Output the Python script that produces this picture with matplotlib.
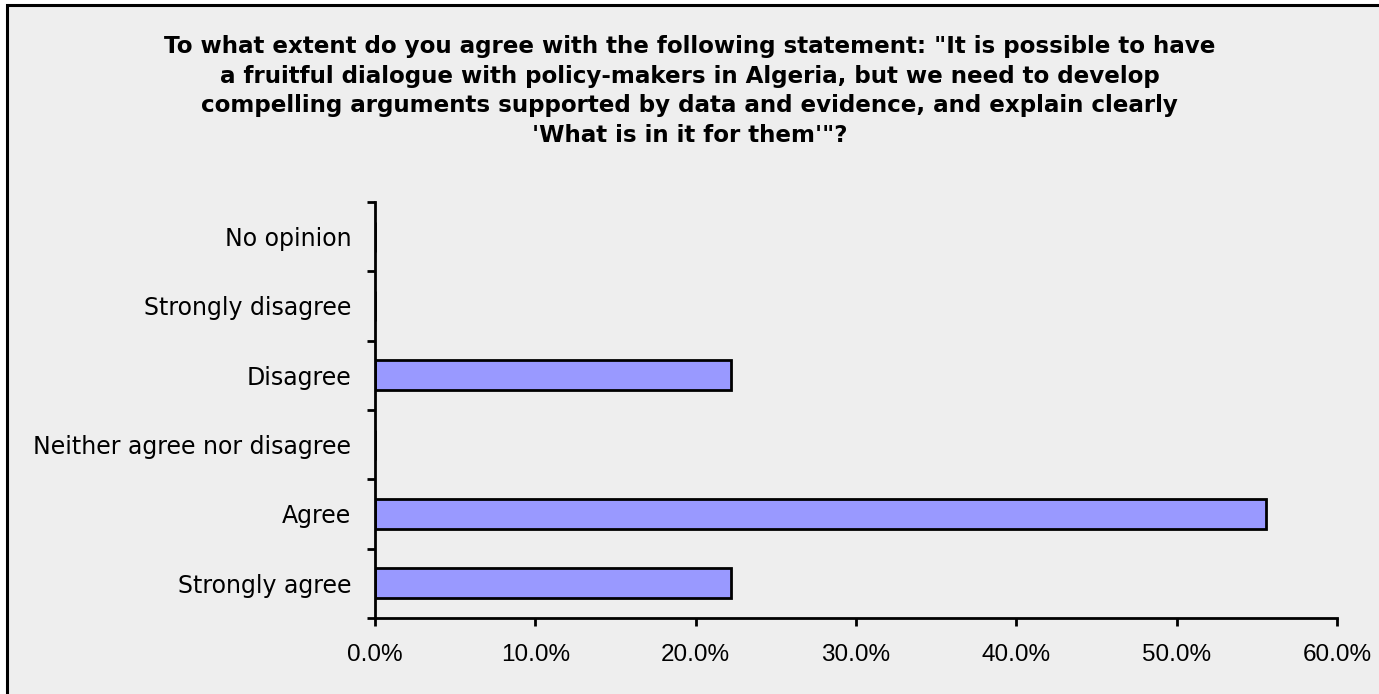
import matplotlib
matplotlib.use('Agg')
import matplotlib.pyplot as plt
from matplotlib.patches import Rectangle
import numpy as np

# 数据
categories = ['Strongly agree', 'Agree', 'Neither agree nor disagree',
              'Disagree', 'Strongly disagree', 'No opinion']
percentages = [22.2, 55.6, 0.0, 22.2, 0.0, 0.0]
x_ticks = [0, 10, 20, 30, 40, 50, 60]
title = ('To what extent do you agree with the following statement: "It is possible to have\n'
         'a fruitful dialogue with policy-makers in Algeria, but we need to develop\n'
         'compelling arguments supported by data and evidence, and explain clearly\n'
         '\'What is in it for them\'"?')

plt.rcParams['font.family'] = ['Liberation Sans', 'DejaVu Sans']

W, H = 1379, 694
fig = plt.figure(figsize=(W / 100, H / 100), dpi=100)
fig.patch.set_facecolor('white')

# 背景框
bg = Rectangle((6.5 / W, -0.02), 1.05, 1 - 4.5 / H + 0.02, transform=fig.transFigure,
               facecolor='#eeeeee', edgecolor='black', linewidth=2.2, zorder=-10)
fig.patches.append(bg)

ax = fig.add_axes([375 / W, 1 - 618 / H, (1337 - 375) / W, (618 - 202) / H])
ax.set_facecolor('none')

y = np.arange(len(categories))
ax.barh(y, percentages, height=0.43, color='#9999ff', edgecolor='black', linewidth=2)

ax.set_xlim(0, 60)
ax.set_ylim(-0.5, len(categories) - 0.5)

for s in ['top', 'right']:
    ax.spines[s].set_visible(False)
for s in ['left', 'bottom']:
    ax.spines[s].set_linewidth(2)
    ax.spines[s].set_color('black')

ax.set_xticks(x_ticks)
ax.set_xticklabels([f'{v:.1f}%' for v in x_ticks], fontsize=17.5)
ax.tick_params(axis='x', length=6, width=2, direction='out', pad=13)

ax.set_yticks(y)
ax.set_yticklabels(categories, fontsize=17, family=['DejaVu Sans'])
ax.tick_params(axis='y', which='major', length=0, pad=17)
ax.set_yticks(np.arange(-0.5, len(categories), 1), minor=True)
ax.tick_params(axis='y', which='minor', length=6, width=2, direction='out')

fig.text(0.5, 1 - 91 / H, title, ha='center', va='center', fontsize=16.6,
         fontweight='bold', linespacing=1.37, family=['DejaVu Sans'])

fig.savefig('out.png', dpi=100)
